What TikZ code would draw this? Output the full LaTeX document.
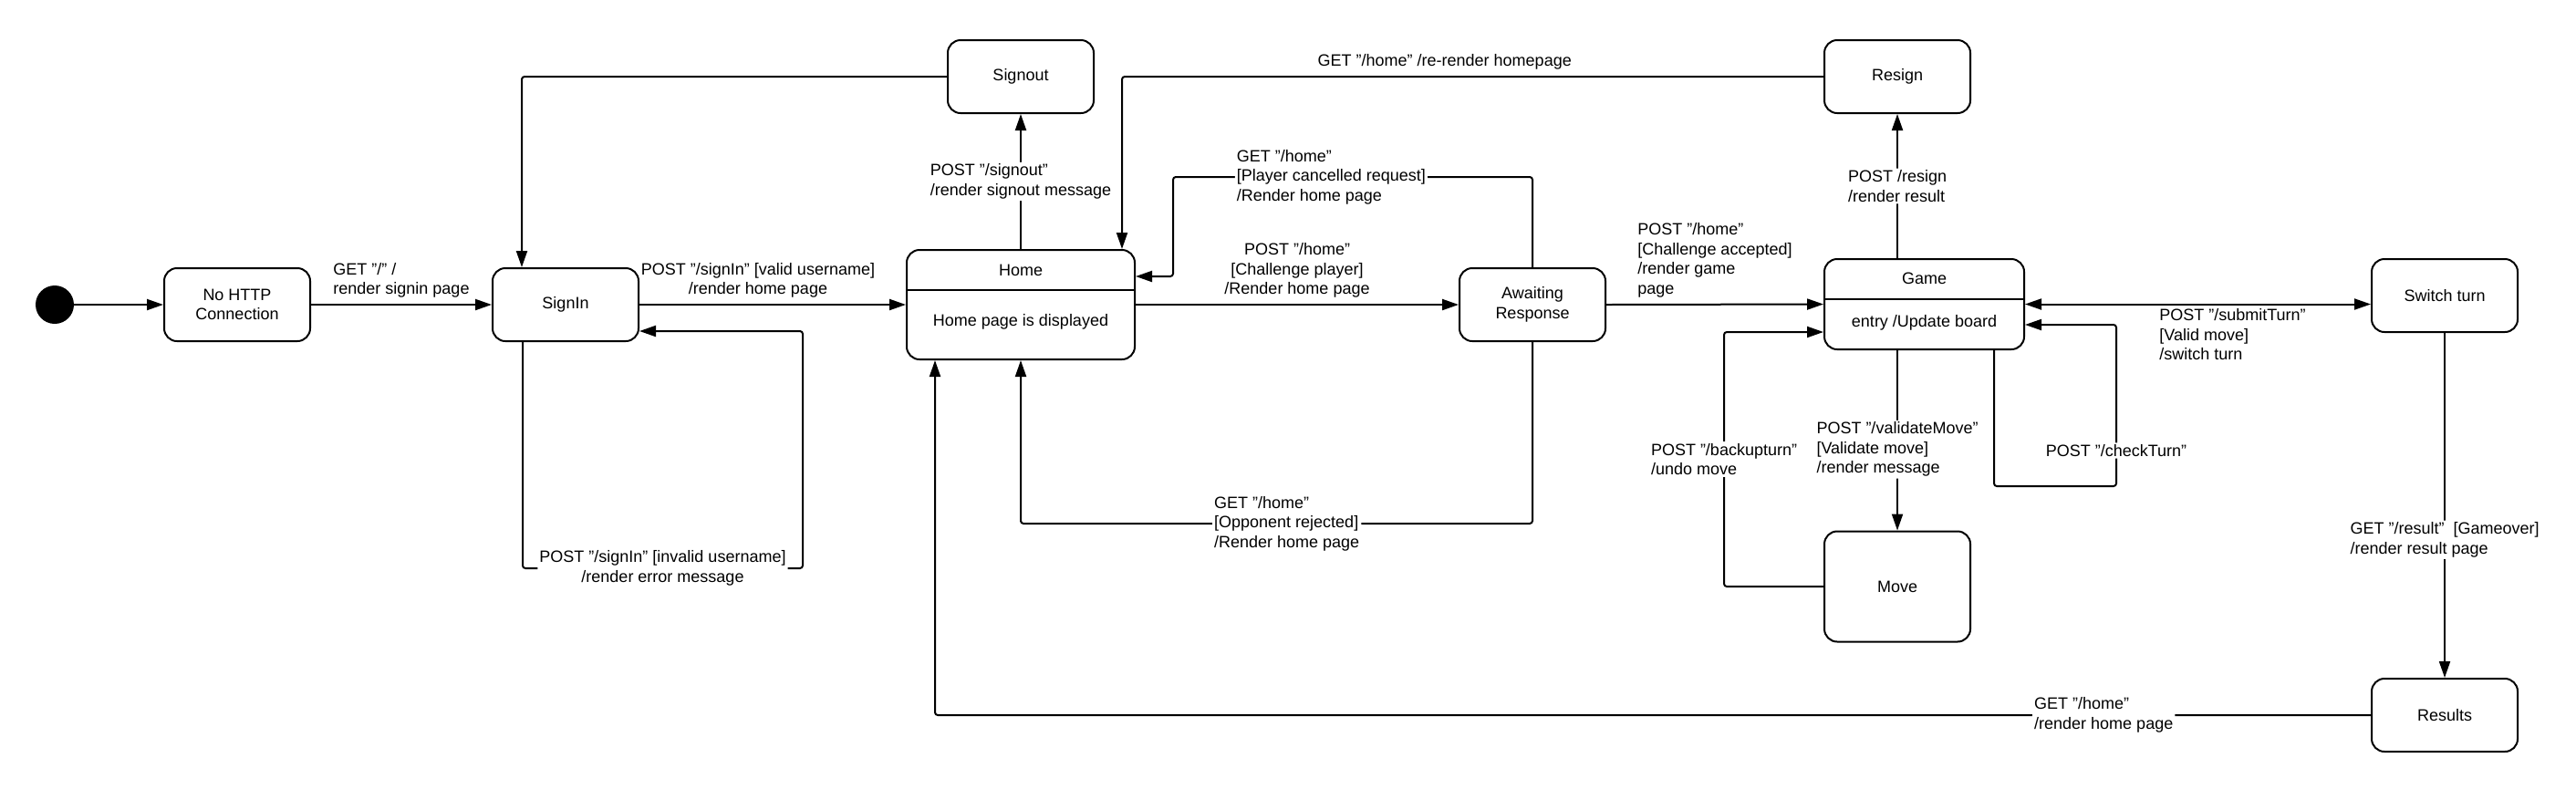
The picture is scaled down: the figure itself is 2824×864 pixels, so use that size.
\documentclass[tikz,border=0pt]{standalone}
\usepackage{fontspec}
\setmainfont{Liberation Sans}
\usetikzlibrary{arrows.meta,calc}

\begin{document}
\begin{tikzpicture}[x=0.5pt,y=-0.5pt]
\tikzstyle{every node}=[font=\fontsize{9}{10.75}\selectfont]
\tikzstyle{state}=[draw,line width=1pt,rounded corners=7pt,minimum width=80pt,minimum height=40pt,align=center,inner sep=0pt]
\tikzstyle{arr}=[line width=1pt,-{Triangle[length=9pt,width=6pt]},rounded corners=1.5pt]
\tikzstyle{lbl}=[fill=white,align=left,inner sep=1pt]
\useasboundingbox (0,0) rectangle (2824,864);

% states
\node[circle,fill,inner sep=0pt,minimum size=21pt] (init) at (60,334) {};
\node[state] (nohttp) at (260,334) {No HTTP\\Connection};
\node[state] (signin) at (620,334) {SignIn};
\node[state] (signout) at (1119,84) {Signout};
\node[state,minimum width=125pt,minimum height=60pt] (home) at (1119,334) {};
\node (hometitle) at (1119,296) {Home};
\node (homebody) at (1119,353) {Home page is displayed};
\draw[line width=1pt] (home.west |- 0,318) -- (home.east |- 0,318);
\node[state] (awaiting) at (1680,334) {Awaiting\\Response};
\node[state] (resign) at (2080,84) {Resign};
\node[state,minimum width=109.5pt,minimum height=49.5pt] (game) at (2109.5,333.5) {};
\node (gametitle) at (2109.5,305) {Game};
\node (gamebody) at (2109.5,354) {entry /Update board};
\draw[line width=1pt] (game.west |- 0,328) -- (game.east |- 0,328);
\node[state,minimum height=60.5pt] (move) at (2080,643) {Move};
\node[state] (switch) at (2680,324) {Switch turn};
\node[state] (results) at (2680,784) {Results};

% sign in
\draw[arr] (init) -- (nohttp);
\draw[arr] (nohttp) -- node[above,align=left]{GET "/" /\\render signin page} (signin);
\draw[arr] (signin) -- node[above,align=center,xshift=-8pt]{POST "/signIn" [valid username]\\/render home page} (home);
\draw[arr] ($(signin.south)+(-47,0)$) -- (573,623) -- node[lbl,align=center]{POST "/signIn" [invalid username]\\/render error message} (880,623) |- ($(signin.east)+(0,29)$);
\draw[arr] (signout.west) -| ($(signin.north)+(-48,0)$);
\draw[arr] (home.north) -- node[lbl]{POST "/signout"\\/render signout message} (signout.south);

% challenge
\draw[arr] (resign.west) -| node[above,pos=0.27]{GET "/home" /re-render homepage} ($(home.north)+(111,0)$);
\draw[arr] (awaiting.north) |- node[lbl,pos=0.78]{GET "/home"\\{}[Player cancelled request]\\/Render home page} (1286,194) |- ($(home.east)+(0,-31)$);
\draw[arr] (home.east) -- node[above,align=center]{POST "/home"\\{}[Challenge player]\\/Render home page} (awaiting.west);
\draw[arr] (awaiting.south) -- ++(0,199) -| node[lbl,pos=0.24]{GET "/home"\\{}[Opponent rejected]\\/Render home page} (home.south);
\draw[arr] (awaiting.east) -- node[above,align=left]{POST "/home"\\{}[Challenge accepted]\\/render game\\page} (game.west);

% game
\draw[arr] ($(game.north)+(-29.5,0)$) -- node[lbl]{POST /resign\\/render result} (resign.south);
\draw[arr] ($(game.south)+(-29.5,0)$) -- node[lbl,pos=0.55]{POST "/validateMove"\\{}[Validate move]\\/render message} (move.north);
\draw[arr] (move.west) -| node[lbl,pos=0.75]{POST "/backupturn"\\/undo move} (1890,364) -- ($(game.west)+(0,30.5)$);
\draw[arr] ($(game.south)+(76.5,0)$) |- (2320,533) |- node[lbl,pos=0.11]{POST "/checkTurn"} ($(game.east)+(0,22.5)$);
\draw[arr,{Triangle[length=9pt,width=6pt]}-{Triangle[length=9pt,width=6pt]}] (game.east) -- node[below,align=left,xshift=19pt,inner sep=2pt]{POST "/submitTurn"\\{}[Valid move]\\/switch turn} (switch.west |- game.east);
\draw[arr] (switch.south) -- node[lbl,pos=0.6]{GET "/result"~~[Gameover]\\/render result page} (results.north);
\draw[arr] (results.west) -| node[lbl,pos=0.093]{GET "/home"\\/render home page} ($(home.south)+(-94,0)$);

\end{tikzpicture}
\end{document}
